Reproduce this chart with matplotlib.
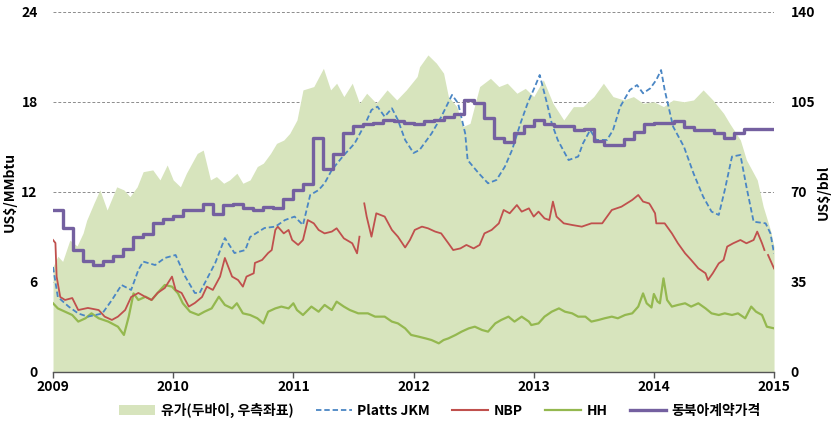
import numpy as np
import matplotlib.pyplot as plt
from matplotlib.lines import Line2D
from matplotlib.patches import Patch

plt.rcParams['font.family'] = ['Noto Sans CJK KR', 'DejaVu Sans']

# ---------------- data ----------------
# Dubai crude, US$/bbl (right axis)
oil_t = [2009.00, 2009.04, 2009.08, 2009.14, 2009.20, 2009.25, 2009.28, 2009.34, 2009.39, 2009.45,
         2009.53, 2009.59, 2009.64, 2009.70, 2009.75, 2009.83, 2009.89, 2009.95, 2010.00, 2010.06,
         2010.11, 2010.20, 2010.25, 2010.31, 2010.36, 2010.42, 2010.47, 2010.53, 2010.58, 2010.64,
         2010.70, 2010.75, 2010.81, 2010.86, 2010.92, 2010.97, 2011.03, 2011.08, 2011.17, 2011.25,
         2011.31, 2011.36, 2011.42, 2011.49, 2011.55, 2011.61, 2011.69, 2011.78, 2011.86, 2011.94,
         2012.03, 2012.05, 2012.12, 2012.19, 2012.25, 2012.29, 2012.36, 2012.41, 2012.47, 2012.55,
         2012.64, 2012.71, 2012.78, 2012.86, 2012.93, 2013.00, 2013.08, 2013.16, 2013.25, 2013.33,
         2013.41, 2013.50, 2013.58, 2013.66, 2013.75, 2013.83, 2013.91, 2014.00, 2014.08, 2014.16,
         2014.25, 2014.33, 2014.41, 2014.49, 2014.58, 2014.63, 2014.72, 2014.77, 2014.86, 2014.91,
         2014.97, 2015.00]
oil_p = [41, 45, 43, 51.3, 49, 54, 59, 65.6, 70.8, 63,
         72, 70.8, 68.2, 72, 77.9, 78.6, 74.7, 80.5, 74.7, 72,
         77.3, 85, 86.3, 74.7, 76, 73.4, 74.7, 77.3, 73.4, 74.7,
         79.9, 81.2, 85, 88.9, 90.2, 92.8, 98, 109.7, 111, 118.1,
         109.7, 112.3, 107.1, 112.3, 104.5, 108.4, 104.5, 109.7, 105.8, 109.7,
         114.9, 118.7, 123.3, 120.1, 116.2, 107.1, 103.2, 95.4, 96.7, 111,
         114.2, 111, 112.3, 108.4, 110.3, 107.1, 113.6, 104.5, 98, 103.2,
         103.2, 107.1, 112.3, 107.1, 105.8, 107.1, 104.5, 105.1, 103.2, 105.8,
         105.1, 105.8, 109.7, 105.8, 100.6, 96.7, 90.2, 82.5, 74.7, 64.3,
         55.2, 48.7]

# Platts JKM, US$/MMbtu
jkm_t = [2009.00, 2009.04, 2009.13, 2009.21, 2009.29, 2009.41, 2009.49, 2009.57, 2009.65, 2009.71,
         2009.75, 2009.85, 2009.93, 2010.02, 2010.10, 2010.18, 2010.22, 2010.35, 2010.43, 2010.51,
         2010.60, 2010.64, 2010.76, 2010.85, 2010.93, 2011.01, 2011.08, 2011.11, 2011.14, 2011.21,
         2011.26, 2011.32, 2011.41, 2011.51, 2011.60, 2011.65, 2011.70, 2011.76, 2011.82, 2011.87,
         2011.93, 2012.00, 2012.05, 2012.15, 2012.23, 2012.32, 2012.37, 2012.43, 2012.45, 2012.54,
         2012.62, 2012.69, 2012.76, 2012.82, 2012.89, 2012.95, 2013.01, 2013.05, 2013.11, 2013.15,
         2013.20, 2013.29, 2013.37, 2013.41, 2013.47, 2013.52, 2013.61, 2013.66, 2013.72, 2013.80,
         2013.86, 2013.91, 2013.97, 2014.02, 2014.06, 2014.09, 2014.16, 2014.25, 2014.33, 2014.41,
         2014.48, 2014.54, 2014.59, 2014.65, 2014.72, 2014.77, 2014.83, 2014.93, 2014.97, 2015.00]
jkm_v = [7.0, 5.0, 4.36, 3.9, 3.69, 3.9, 4.8, 5.8, 5.47, 6.8,
         7.36, 7.13, 7.6, 7.8, 6.36, 5.27, 5.27, 7.27, 8.93, 7.93,
         8.13, 9.0, 9.6, 9.69, 10.13, 10.36, 9.8, 10.8, 11.8, 12.13,
         12.58, 13.47, 14.36, 15.24, 16.58, 17.47, 17.69, 17.02, 17.58, 16.8,
         15.47, 14.6, 14.8, 15.9, 17.0, 18.47, 17.93, 15.9, 14.13, 13.27,
         12.58, 12.8, 13.69, 14.8, 16.58, 17.93, 19.02, 19.8, 17.93, 16.58,
         15.47, 14.13, 14.36, 15.24, 16.13, 15.47, 15.47, 16.13, 17.69, 18.8,
         19.13, 18.58, 18.91, 19.47, 20.13, 18.8, 16.36, 15.02, 13.24, 11.69,
         10.69, 10.47, 12.13, 14.36, 14.47, 12.36, 10.02, 9.91, 9.24, 7.9]

# NBP, US$/MMbtu (nan = break in the series)
nbp_t = [2009.00, 2009.02, 2009.03, 2009.06, 2009.10, 2009.16, 2009.21, 2009.29, 2009.38, 2009.43,
         2009.49, 2009.54, 2009.60, 2009.65, 2009.71, 2009.77, 2009.82, 2009.87, 2009.93, 2009.99,
         2010.02, 2010.07, 2010.13, 2010.18, 2010.24, 2010.28, 2010.33, 2010.39, 2010.43, 2010.49,
         2010.54, 2010.58, 2010.61, 2010.67, 2010.68, 2010.74, 2010.79, 2010.82, 2010.85, 2010.87,
         2010.92, 2010.96, 2010.99, 2011.04, 2011.08, 2011.12, 2011.17, 2011.21, 2011.26, 2011.32,
         2011.36, 2011.42, 2011.49, 2011.53, 2011.55, 2011.57, 2011.59, 2011.61, 2011.65, 2011.69,
         2011.76, 2011.82, 2011.87, 2011.93, 2011.97, 2012.01, 2012.07, 2012.12, 2012.18, 2012.23,
         2012.29, 2012.33, 2012.39, 2012.44, 2012.50, 2012.55, 2012.59, 2012.65, 2012.71, 2012.75,
         2012.80, 2012.86, 2012.90, 2012.96, 2013.00, 2013.04, 2013.09, 2013.13, 2013.16, 2013.19,
         2013.25, 2013.32, 2013.40, 2013.48, 2013.57, 2013.65, 2013.73, 2013.82, 2013.87, 2013.91,
         2013.96, 2013.97, 2014.01, 2014.02, 2014.09, 2014.15, 2014.20, 2014.26, 2014.31, 2014.37,
         2014.43, 2014.45, 2014.49, 2014.54, 2014.58, 2014.61, 2014.66, 2014.72, 2014.77, 2014.83,
         2014.86, 2014.90, 2014.92, 2014.935, 2014.95, 2015.00]
nbp_v = [8.8, 8.6, 6.36, 5.0, 4.8, 4.93, 4.13, 4.27, 4.13, 3.69,
         3.47, 3.69, 4.13, 5.0, 5.27, 5.0, 4.8, 5.27, 5.6, 6.36,
         5.47, 5.27, 4.36, 4.6, 5.0, 5.69, 5.47, 6.36, 7.6, 6.36,
         6.13, 5.69, 6.36, 6.58, 7.27, 7.47, 7.93, 8.13, 9.47, 9.69,
         9.24, 9.47, 8.8, 8.47, 8.8, 10.13, 9.91, 9.47, 9.24, 9.36,
         9.58, 8.91, 8.58, 7.91, 9.02, np.nan, 11.24, 10.36, 9.02, 10.58,
         10.36, 9.47, 9.02, 8.3, 8.8, 9.47, 9.69, 9.58, 9.36, 9.24,
         8.58, 8.13, 8.24, 8.47, 8.24, 8.47, 9.24, 9.47, 9.91, 10.8,
         10.58, 11.13, 10.69, 10.91, 10.36, 10.69, 10.24, 10.13, 11.36, 10.36,
         9.91, 9.8, 9.69, 9.91, 9.91, 10.8, 11.02, 11.47, 11.8, 11.36,
         11.24, 11.13, 10.58, 9.91, 9.91, 9.24, 8.58, 7.91, 7.47, 6.91,
         6.58, 6.13, 6.58, 7.24, 7.47, 8.36, 8.58, 8.8, 8.58, 8.8,
         9.36, 8.58, 8.13, np.nan, 7.8, 6.9]

# Henry Hub, US$/MMbtu
hh_t = [2009.00, 2009.04, 2009.10, 2009.16, 2009.21, 2009.27, 2009.32, 2009.38, 2009.46, 2009.54,
        2009.59, 2009.63, 2009.67, 2009.71, 2009.77, 2009.82, 2009.88, 2009.93, 2009.99, 2010.04,
        2010.08, 2010.14, 2010.21, 2010.26, 2010.32, 2010.38, 2010.43, 2010.49, 2010.53, 2010.58,
        2010.64, 2010.70, 2010.75, 2010.79, 2010.85, 2010.90, 2010.96, 2011.00, 2011.03, 2011.08,
        2011.15, 2011.21, 2011.26, 2011.32, 2011.36, 2011.42, 2011.47, 2011.54, 2011.62, 2011.68,
        2011.76, 2011.82, 2011.87, 2011.93, 2011.98, 2012.04, 2012.10, 2012.15, 2012.21, 2012.25,
        2012.29, 2012.35, 2012.40, 2012.46, 2012.51, 2012.57, 2012.62, 2012.68, 2012.73, 2012.79,
        2012.84, 2012.90, 2012.96, 2012.98, 2013.04, 2013.09, 2013.15, 2013.21, 2013.26, 2013.32,
        2013.37, 2013.43, 2013.48, 2013.54, 2013.59, 2013.65, 2013.70, 2013.76, 2013.82, 2013.87,
        2013.91, 2013.94, 2013.98, 2014.00, 2014.03, 2014.05, 2014.08, 2014.11, 2014.15, 2014.20,
        2014.26, 2014.31, 2014.37, 2014.43, 2014.48, 2014.54, 2014.59, 2014.65, 2014.70, 2014.76,
        2014.81, 2014.85, 2014.90, 2014.94, 2015.00]
hh_v = [4.58, 4.24, 4.02, 3.8, 3.36, 3.58, 3.91, 3.58, 3.36, 3.02,
        2.47, 3.69, 5.24, 4.8, 5.02, 4.8, 5.36, 5.8, 5.69, 5.24,
        4.58, 4.02, 3.8, 4.02, 4.24, 5.02, 4.47, 4.24, 4.58, 3.91,
        3.8, 3.58, 3.24, 4.02, 4.24, 4.36, 4.24, 4.58, 4.13, 3.8,
        4.36, 4.02, 4.47, 4.13, 4.69, 4.36, 4.13, 3.91, 3.91, 3.69,
        3.69, 3.36, 3.24, 2.91, 2.47, 2.36, 2.24, 2.13, 1.91, 2.13,
        2.24, 2.47, 2.69, 2.91, 3.02, 2.8, 2.69, 3.24, 3.47, 3.69,
        3.36, 3.69, 3.36, 3.13, 3.24, 3.69, 4.02, 4.24, 4.02, 3.91,
        3.69, 3.69, 3.36, 3.47, 3.58, 3.69, 3.58, 3.8, 3.91, 4.36,
        5.24, 4.58, 4.3, 5.2, 4.7, 4.58, 6.24, 4.8, 4.36, 4.47,
        4.58, 4.36, 4.58, 4.24, 3.91, 3.8, 3.91, 3.8, 3.91, 3.58,
        4.36, 4.02, 3.8, 3.02, 2.91]

# Northeast Asia contract price, monthly, US$/MMbtu
contract_v = [10.8, 9.6, 8.1, 7.4, 7.1, 7.4, 7.7, 8.2, 9.0, 9.2, 9.9, 10.2,
              10.4, 10.8, 10.8, 11.2, 10.5, 11.1, 11.2, 10.9, 10.8, 11.0, 10.9, 11.5,
              12.1, 12.5, 15.6, 13.5, 14.5, 15.9, 16.4, 16.5, 16.6, 16.8, 16.7, 16.6,
              16.5, 16.7, 16.8, 17.0, 17.2, 18.1, 17.9, 16.9, 15.6, 15.3, 15.9, 16.4,
              16.8, 16.5, 16.4, 16.4, 16.1, 16.2, 15.4, 15.1, 15.1, 15.5, 16.0, 16.5,
              16.6, 16.6, 16.7, 16.3, 16.1, 16.1, 15.9, 15.6, 15.9, 16.2, 16.2, 16.2]

years = [2009, 2010, 2011, 2012, 2013, 2014, 2015]
left_ticks = [0, 6, 12, 18, 24]
right_ticks = [0, 35, 70, 105, 140]

c_oil = '#d7e4bd'
c_jkm = '#4a86c4'
c_nbp = '#c0504d'
c_hh = '#94b84f'
c_con = '#7460a0'

# ---------------- plot ----------------
fig = plt.figure(figsize=(8.35, 4.33), dpi=100)
ax1 = fig.add_axes([0.0635, 0.1409, 0.8635, 0.8314])
ax2 = ax1.twinx()

# oil area on the right axis, behind everything
ax2.fill_between(oil_t, oil_p, 0, color=c_oil, lw=0, zorder=2)
ax2.set_ylim(0, 140)
ax2.set_yticks(right_ticks)
ax2.yaxis.grid(True, linestyle=(0, (3, 2)), color='#8c8c8c', lw=0.7)
ax2.set_axisbelow(True)

ax1.set_zorder(ax2.get_zorder() + 1)
ax1.patch.set_visible(False)

ax1.plot(hh_t, hh_v, color=c_hh, lw=1.6)
ax1.plot(nbp_t, nbp_v, color=c_nbp, lw=1.3)
ax1.plot(jkm_t, jkm_v, color=c_jkm, lw=1.3, linestyle=(0, (3, 1.6)))
con_t = 2009 + np.arange(len(contract_v) + 1) / 12
ax1.plot(con_t, contract_v + [contract_v[-1]], color=c_con, lw=2.4, drawstyle='steps-post')

ax1.set_xlim(2009, 2015)
ax1.set_ylim(0, 24)
ax1.set_xticks(years)
ax1.set_xticklabels([str(y) for y in years])
ax1.set_yticks(left_ticks)

for ax in (ax1, ax2):
    for s in ax.spines.values():
        s.set_visible(False)
ax1.spines['bottom'].set_visible(True)
ax1.spines['bottom'].set_color('#555555')
ax1.spines['bottom'].set_linewidth(1.0)

ax1.tick_params(axis='x', direction='out', length=4, width=1, color='#555555',
                labelsize=10, pad=2)
ax1.tick_params(axis='y', length=0, labelsize=10, pad=11)
ax2.tick_params(axis='y', length=0, labelsize=10, pad=12)
for lab in ax1.get_xticklabels() + ax1.get_yticklabels() + ax2.get_yticklabels():
    lab.set_fontweight('bold')

ax1.set_ylabel('US$/MMbtu', fontsize=10, fontweight='bold', labelpad=3)
ax2.set_ylabel('US$/bbl', fontsize=10, fontweight='bold', labelpad=1)

handles = [Patch(facecolor=c_oil, edgecolor='none'),
           Line2D([], [], color=c_jkm, lw=1.3, linestyle=(0, (3, 1.6))),
           Line2D([], [], color=c_nbp, lw=1.5),
           Line2D([], [], color=c_hh, lw=1.6),
           Line2D([], [], color=c_con, lw=2.4)]
labels = ['유가(두바이, 우측좌표)', 'Platts JKM', 'NBP', 'HH', '동북아계약가격']
fig.legend(handles, labels, loc='center', bbox_to_anchor=(0.527, 0.053), ncol=5,
           frameon=False, handlelength=2.6, handletextpad=0.4,
           columnspacing=1.6, prop={'weight': 'bold', 'size': 10})

fig.savefig('out.png', dpi=100)
